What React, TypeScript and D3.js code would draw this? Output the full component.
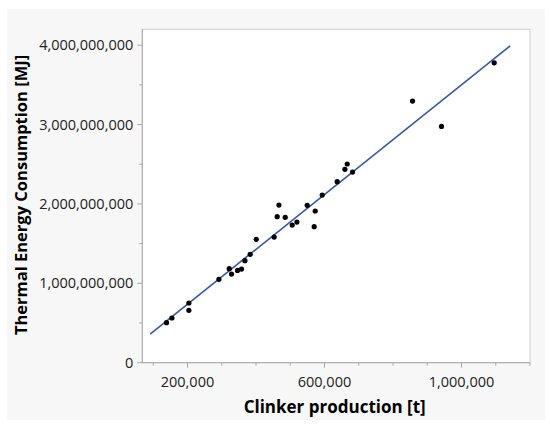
import React from "react";
import * as d3 from "d3";

const clinker = [138700, 154400, 204000, 204000, 291700, 321800, 328500, 346000, 357700, 367600, 383000, 400600, 453000, 461900, 466900, 485300, 505700, 519400, 549500, 569900, 572800, 593300, 637000, 659600, 666300, 681800, 857000, 941600, 1095500];
const energy = [0.504e9, 0.563e9, 0.752e9, 0.66e9, 1.05e9, 1.184e9, 1.117e9, 1.163e9, 1.18e9, 1.285e9, 1.365e9, 1.554e9, 1.583e9, 1.839e9, 1.986e9, 1.831e9, 1.734e9, 1.772e9, 1.982e9, 1.713e9, 1.911e9, 2.112e9, 2.28e9, 2.436e9, 2.503e9, 2.402e9, 3.296e9, 2.977e9, 3.778e9];
const fitX = [91000, 1142000];
const fitSlope = 3453;
const fitIntercept = 0.047e9;
const xTickLabels = [200000, 600000, 1000000];
const xMinorTicks = [100000, 300000, 400000, 500000, 700000, 800000, 900000, 1100000, 1200000];
const yTickLabels = [0, 1e9, 2e9, 3e9, 4e9];
const yMinorTicks = [0.5e9, 1.5e9, 2.5e9, 3.5e9];
const xTitle = "Clinker production [t]";
const yTitle = "Thermal Energy Consumption [MJ]";

const W = 550, H = 426;
const L = 142.3, R = 530, T = 29.3, B = 362.7;
const FONT = "'Open Sans', 'Noto Sans', sans-serif";

export default function App() {
  const x = d3.scaleLinear().domain([68000, 1200000]).range([L, R]);
  const y = d3.scaleLinear().domain([0, 4.2e9]).range([B, T]);
  const fmt = d3.format(",");
  const line = d3.line<number>().x(v => x(v)).y(v => y(fitIntercept + fitSlope * v));
  return (
    <svg width={W} height={H} style={{ position: "absolute", left: 0, top: 0, background: "#fff" }}>
      <rect x={7} y={9} width={538} height={411} fill="#f7f7f7" />
      <rect x={L} y={T} width={R - L} height={B - T} fill="#fff" stroke="#cfcfcf" strokeWidth={1} />
      <line x1={L} x2={L} y1={T} y2={B} stroke="#a8a8a8" />
      <line x1={L} x2={R} y1={B} y2={B} stroke="#a8a8a8" />
      {xTickLabels.map(v => (
        <g key={"xt" + v}>
          <line x1={x(v)} x2={x(v)} y1={B} y2={B + 5} stroke="#a8a8a8" />
          <text x={x(v)} y={386.5} textAnchor="middle" fontFamily={FONT} fontSize={14.5} fill="#222">{fmt(v)}</text>
        </g>
      ))}
      {xMinorTicks.map(v => (
        <line key={"xm" + v} x1={x(v)} x2={x(v)} y1={B} y2={B + 3} stroke="#a8a8a8" />
      ))}
      {yTickLabels.map(v => (
        <g key={"yt" + v}>
          <line x1={L - 5} x2={L} y1={y(v)} y2={y(v)} stroke="#a8a8a8" />
          <text x={L - 9} y={y(v) + 5} textAnchor="end" fontFamily={FONT} fontSize={14.5} fill="#222">{fmt(v)}</text>
        </g>
      ))}
      {yMinorTicks.map(v => (
        <line key={"ym" + v} x1={L - 3} x2={L} y1={y(v)} y2={y(v)} stroke="#a8a8a8" />
      ))}
      <path d={line(fitX) || ""} fill="none" stroke="#3658a8" strokeWidth={1.6} />
      {clinker.map((c, i) => (
        <circle key={i} cx={x(c)} cy={y(energy[i])} r={2.6} fill="#000" />
      ))}
      <text x={334.7} y={413} textAnchor="middle" fontFamily={FONT} fontSize={17} fontWeight="bold" fill="#000">{xTitle}</text>
      <text transform={`translate(27,195) rotate(-90)`} textAnchor="middle" fontFamily={FONT} fontSize={16.5} fontWeight="bold" fill="#000">{yTitle}</text>
    </svg>
  );
}
